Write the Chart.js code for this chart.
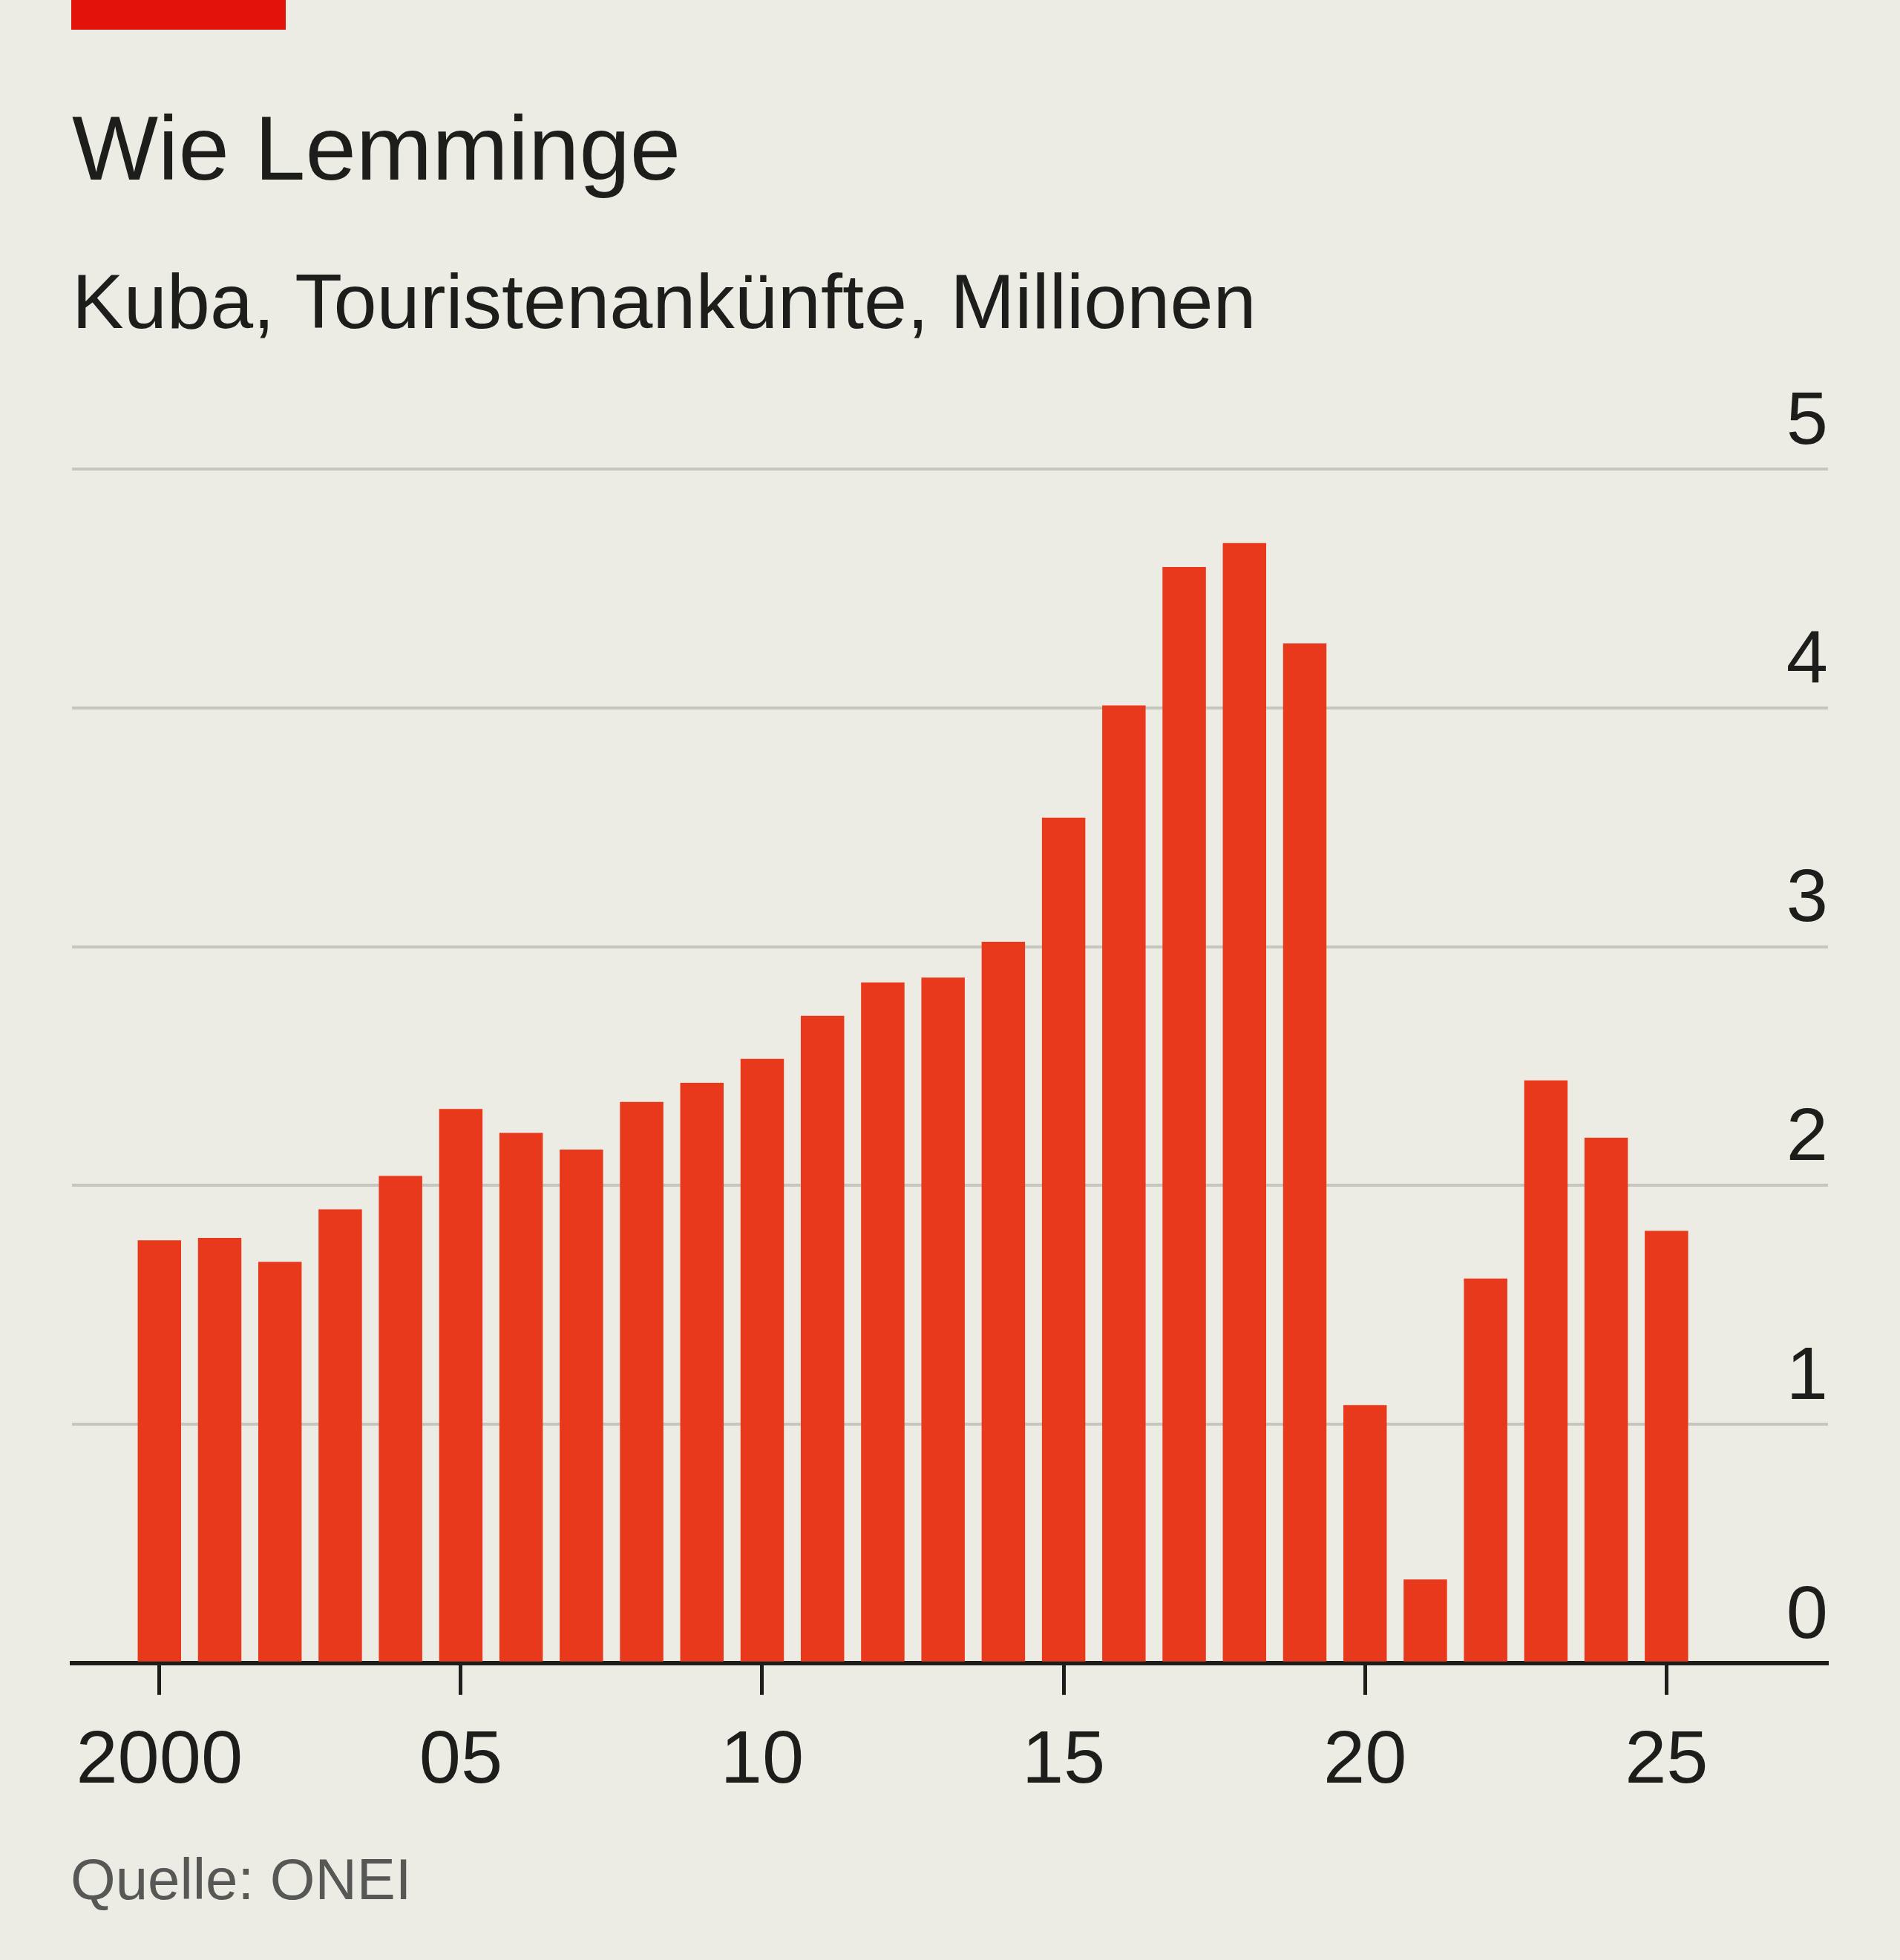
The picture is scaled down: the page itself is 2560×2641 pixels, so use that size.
<!DOCTYPE html>
<html lang="de">
<head>
<meta charset="utf-8">
<title>Wie Lemminge</title>
<script src="https://cdn.jsdelivr.net/npm/chart.js@4.4.1/dist/chart.umd.min.js"></script>
<style>
  html, body { margin: 0; padding: 0; }
  body {
    width: 2560px; height: 2641px; position: relative; overflow: hidden;
    background: #edece4; font-family: "Liberation Sans", Arial, sans-serif; color: #1d1d1b;
  }
  .balken { position: absolute; left: 96px; top: 0; width: 289px; height: 40px; background: #e3120b; }
  .titel { position: absolute; left: 97px; top: 138px; font-size: 123px; line-height: 1; white-space: nowrap; }
  .untertitel { position: absolute; left: 97px; top: 354px; font-size: 104.5px; line-height: 1; white-space: nowrap; }
  .quelle { position: absolute; left: 95px; top: 2493px; font-size: 78px; line-height: 1; color: #575755; white-space: nowrap; }
  .grafik { position: absolute; left: 0; top: 480px; width: 2560px; height: 2000px; }
</style>
</head>
<body>
<div class="balken"></div>
<div class="titel">Wie Lemminge</div>
<div class="untertitel">Kuba, Touristenankünfte, Millionen</div>
<div class="grafik"><canvas id="myChart"></canvas></div>
<div class="quelle">Quelle: ONEI</div>

<script>
// daten
const jahre = [2000, 2001, 2002, 2003, 2004, 2005, 2006, 2007, 2008, 2009, 2010, 2011, 2012,
               2013, 2014, 2015, 2016, 2017, 2018, 2019, 2020, 2021, 2022, 2023, 2024, 2025]
const ankuenfte = [1.77, 1.78, 1.68, 1.90, 2.04, 2.32, 2.22, 2.15, 2.35, 2.43, 2.53, 2.71, 2.85,
                   2.87, 3.02, 3.54, 4.01, 4.59, 4.69, 4.27, 1.08, 0.35, 1.61, 2.44, 2.20, 1.81]

// achsen
const tickJahre = [2000, 2005, 2010, 2015, 2020, 2025]
const tickTexte = ['2000', '05', '10', '15', '20', '25']
const yWerte = [0, 1, 2, 3, 4, 5]

const schrift = { family: '"Liberation Sans", Arial, sans-serif', size: 101 }
const dunkel = '#1d1d1b'

function grafico() {
    const ctx = document.getElementById('myChart')

    const punkte = jahre.map((j, i) => ({ x: j, y: ankuenfte[i] }))

    new Chart(ctx, {
        type: 'bar',
        data: {
            datasets: [{
                label: 'Touristenankünfte',
                data: punkte,
                backgroundColor: '#e8391c',
                borderWidth: 0,
                barPercentage: 0.72,
                categoryPercentage: 1.0
            }]
        },
        options: {
            responsive: true,
            maintainAspectRatio: false,
            animation: false,
            layout: { padding: { top: 152, left: 97, right: 97, bottom: 15 } },
            plugins: {
                legend: { display: false },
                tooltip: { enabled: false }
            },
            scales: {
                x: {
                    type: 'linear',
                    z: 1,
                    min: 1998.55,
                    max: 2027.68,
                    offset: false,
                    afterBuildTicks: (s) => { s.ticks = tickJahre.map(v => ({ value: v })) },
                    ticks: {
                        autoSkip: false,
                        maxRotation: 0,
                        padding: 30,
                        color: dunkel,
                        font: schrift,
                        callback: (v) => tickTexte[tickJahre.indexOf(v)]
                    },
                    grid: {
                        offset: false,
                        drawOnChartArea: false,
                        drawTicks: true,
                        tickLength: 43,
                        tickWidth: 5,
                        tickColor: dunkel
                    },
                    border: { display: true, color: dunkel, width: 6 }
                },
                y: {
                    position: 'right',
                    min: 0,
                    max: 5,
                    afterBuildTicks: (s) => { s.ticks = yWerte.map(v => ({ value: v })) },
                    ticks: {
                        mirror: true,
                        padding: 0,
                        labelOffset: -62,
                        color: dunkel,
                        font: schrift,
                        callback: (v) => String(v)
                    },
                    grid: {
                        drawTicks: false,
                        lineWidth: 4,
                        color: (c) => c.tick && c.tick.value === 0 ? 'rgba(0,0,0,0)' : '#c6c6be'
                    },
                    border: { display: false }
                }
            }
        }
    })
}

grafico()
</script>
</body>
</html>
